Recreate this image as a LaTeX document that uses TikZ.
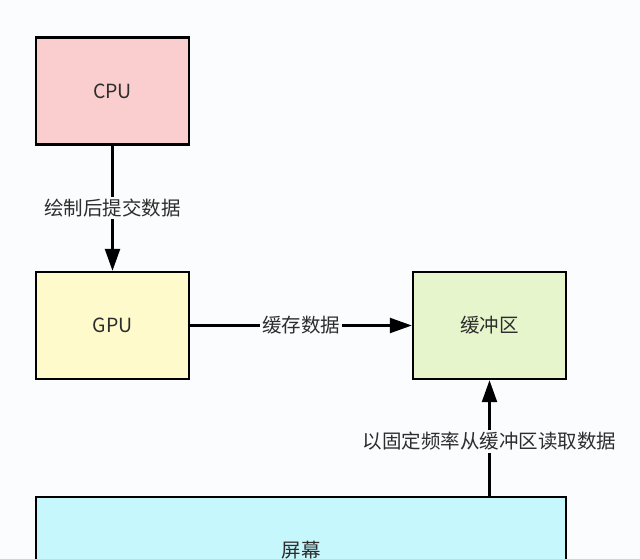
\documentclass[tikz,border=0pt]{standalone}
\usepackage{fontspec}
\setmainfont{Noto Sans CJK SC}
\usepackage{tikz}
\usetikzlibrary{arrows.meta}

\definecolor{cpufill}{RGB}{250,206,206}
\definecolor{gpufill}{RGB}{255,250,204}
\definecolor{buffill}{RGB}{230,245,204}
\definecolor{scrfill}{RGB}{198,247,252}
\definecolor{txtgray}{RGB}{45,45,45}
\definecolor{bgcol}{RGB}{251,252,253}

\begin{document}
\begin{tikzpicture}[x=1pt,y=-1pt]
        \tikzset{unit/.style = {draw, line width=2.4pt, minimum width=153pt, minimum height=107pt, font=\fontsize{19.5}{22}\selectfont, text=txtgray}}
        \tikzset{edge/.style = {-{Triangle[length=22pt,width=15pt]}, line width=2.4pt}}
        \tikzset{lbl/.style = {fill=bgcol, inner sep=2pt, font=\fontsize{19.5}{22}\selectfont, text=txtgray}}
        \useasboundingbox[fill=bgcol] (0,0) rectangle (640,559);
        \clip (0,0) rectangle (640,559);
        % vertices
        \node[unit, fill=cpufill] (cpu) at (112.5,91) {CPU};
        \node[unit, fill=gpufill] (gpu) at (112.5,325.5) {GPU};
        \node[unit, fill=buffill] (buffer) at (489.5,325.5) {缓冲区};
        \node[unit, fill=scrfill, minimum width=530pt] (screen) at (301,550.5) {屏幕};
        %edges
        \draw[edge] (cpu) -- node[lbl] (submit) {绘制后提交数据} (gpu);
        \draw[edge] (gpu) -- node[lbl] (cache) {缓存数据} (buffer);
        \draw[edge] (screen.north -| buffer) -- node[lbl, pos=0.47] (read) {以固定频率从缓冲区读取数据} (buffer);
    \end{tikzpicture}
\end{document}
